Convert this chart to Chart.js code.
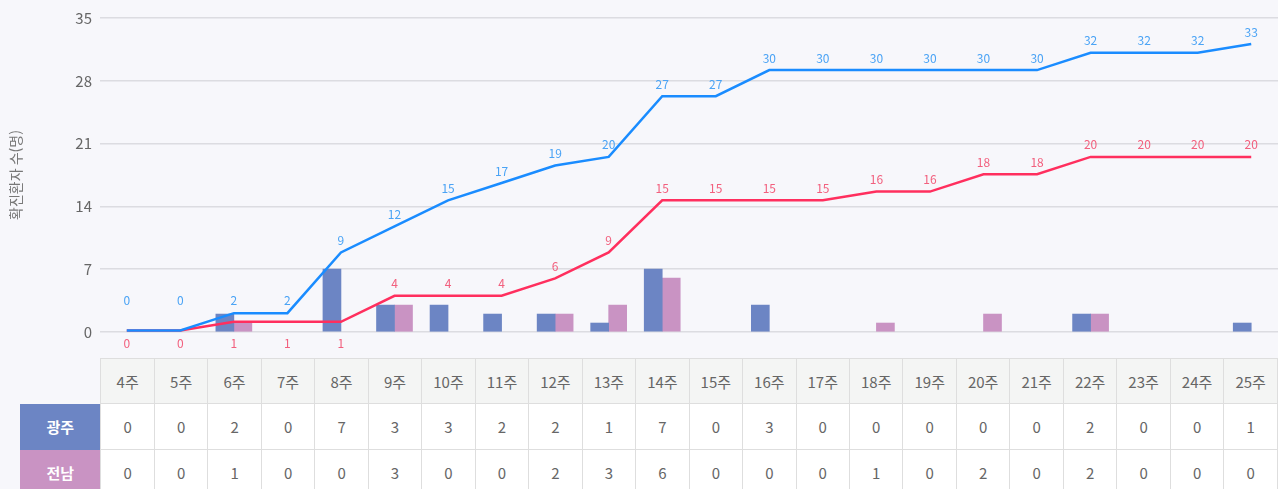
<!DOCTYPE html>
<html lang="ko">
<head>
<meta charset="utf-8">
<script src="https://cdn.jsdelivr.net/npm/chart.js@4.4.1/dist/chart.umd.min.js"></script>
<style>
  html, body { margin: 0; padding: 0; background: #f7f7fb; }
  body { width: 1278px; height: 489px; overflow: hidden; position: relative; font-family: 'Noto Sans CJK KR', 'Noto Sans', sans-serif; }
  #chartBox { position: absolute; left: 0; top: 0; width: 1278px; height: 356px; }
  table { position: absolute; left: 20px; top: 358px; border-collapse: collapse; table-layout: fixed; }
  td, th { border: 1px solid #dedede; text-align: center; font-size: 15px; color: #666; font-weight: normal; padding: 0; }
  thead th { background: #f4f5f4; height: 44px; }
  thead th.corner { background: transparent; border: none; border-right: 1px solid #dedede; }
  tbody td { background: #fff; height: 45px; }
  tbody th { color: #fff; font-weight: bold; border: none; }
  tbody tr.gj th { background: #6c85c4; }
  tbody tr.jn th { background: #c993c3; }
</style>
</head>
<body>
<div id="chartBox"><canvas id="chart"></canvas></div>
<table id="dataTable">
  <colgroup id="cols"></colgroup>
  <thead><tr id="headRow"><th class="corner"></th></tr></thead>
  <tbody></tbody>
</table>
<script>
// weekly data
const weeks = ['4주','5주','6주','7주','8주','9주','10주','11주','12주','13주','14주','15주','16주','17주','18주','19주','20주','21주','22주','23주','24주','25주'];
const gwangjuWeekly = [0,0,2,0,7,3,3,2,2,1,7,0,3,0,0,0,0,0,2,0,0,1];
const jeonnamWeekly = [0,0,1,0,0,3,0,0,2,3,6,0,0,0,1,0,2,0,2,0,0,0];
// cumulative (as labelled on the chart)
const gwangjuTotal = [0,0,2,2,9,12,15,17,19,20,27,27,30,30,30,30,30,30,32,32,32,33];
const jeonnamTotal = [0,0,1,1,1,4,4,4,6,9,15,15,15,15,16,16,18,18,20,20,20,20];
const yTicks = [0,7,14,21,28,35];

// Table under the chart
const cols = document.getElementById('cols');
const colLabel = document.createElement('col');
colLabel.style.width = '81px';
cols.appendChild(colLabel);
weeks.forEach(() => {
  const c = document.createElement('col');
  c.style.width = '53.5px';
  cols.appendChild(c);
});
const headRow = document.getElementById('headRow');
weeks.forEach(w => {
  const th = document.createElement('th');
  th.textContent = w;
  headRow.appendChild(th);
});
const tbody = document.querySelector('#dataTable tbody');
[['광주', gwangjuWeekly, 'gj'], ['전남', jeonnamWeekly, 'jn']].forEach(([name, vals, cls]) => {
  const tr = document.createElement('tr');
  tr.className = cls;
  tr.innerHTML = '<th>' + name + '</th>' + vals.map(v => '<td>' + v + '</td>').join('');
  tbody.appendChild(tr);
});

// Value labels on the lines
const lineLabels = {
  id: 'lineLabels',
  afterDatasetsDraw(chart) {
    const ctx = chart.ctx;
    const zeroY = chart.scales.y.getPixelForValue(0);
    ctx.save();
    ctx.font = '12px "Noto Sans CJK KR", "Noto Sans", sans-serif';
    ctx.textAlign = 'center';
    ctx.textBaseline = 'middle';
    chart.data.datasets.forEach((ds, i) => {
      if (ds.type !== 'line') return;
      const meta = chart.getDatasetMeta(i);
      ctx.fillStyle = ds.labelColor;
      meta.data.forEach((pt, j) => {
        let y = pt.y - 12;
        if (pt.y > zeroY - 20) {
          y = ds.labelBelow ? zeroY + 11 : zeroY - 32;
        }
        ctx.fillText(ds.data[j], pt.x, y);
      });
    });
    ctx.restore();
  }
};

// hide empty bars
const barColor = color => c => (c.raw === 0 ? 'rgba(0,0,0,0)' : color);

const ctx = document.getElementById('chart').getContext('2d');
new Chart(ctx, {
  data: {
    labels: weeks,
    datasets: [
      {
        type: 'line',
        label: '광주 누적',
        data: gwangjuTotal,
        yAxisID: 'y1',
        borderColor: '#1a8cff',
        labelColor: '#4aa3f5',
        borderWidth: 2.5,
        pointRadius: 0,
        tension: 0,
        order: 0
      },
      {
        type: 'line',
        label: '전남 누적',
        data: jeonnamTotal,
        yAxisID: 'y1',
        borderColor: '#ff2f5e',
        labelColor: '#f2607e',
        labelBelow: true,
        borderWidth: 2.5,
        pointRadius: 0,
        tension: 0,
        order: 1
      },
      {
        type: 'bar',
        label: '광주',
        data: gwangjuWeekly,
        backgroundColor: barColor('#6c85c4'),
        barThickness: 18,
        categoryPercentage: 0.785,
        order: 2
      },
      {
        type: 'bar',
        label: '전남',
        data: jeonnamWeekly,
        backgroundColor: barColor('#c993c3'),
        barThickness: 18,
        categoryPercentage: 0.785,
        order: 3
      }
    ]
  },
  options: {
    responsive: true,
    maintainAspectRatio: false,
    animation: false,
    layout: { padding: { top: 18, bottom: 24, left: 0, right: 0 } },
    plugins: {
      legend: { display: false },
      tooltip: { enabled: false }
    },
    scales: {
      x: {
        display: false,
        offset: true
      },
      y: {
        min: 0,
        max: 35,
        afterBuildTicks: axis => { axis.ticks = yTicks.map(v => ({ value: v })); },
        afterFit: axis => { axis.width = 100; },
        border: { display: false },
        grid: { color: '#dcdce1', lineWidth: 1.5, drawTicks: false },
        ticks: {
          color: '#666',
          padding: 8,
          font: { family: '"Noto Sans CJK KR", "Noto Sans", sans-serif', size: 15 }
        },
        title: {
          display: true,
          text: '확진환자 수(명)',
          color: '#777',
          padding: { top: 7, bottom: 0 },
          font: { family: '"Noto Sans CJK KR", sans-serif', size: 14 }
        }
      },
      y1: {
        display: false,
        min: -0.17,
        max: 36
      }
    }
  },
  plugins: [lineLabels]
});
</script>
</body>
</html>
